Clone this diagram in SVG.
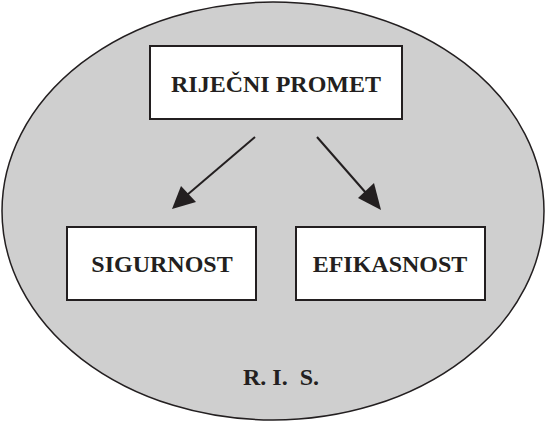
<svg xmlns="http://www.w3.org/2000/svg" width="546" height="422" viewBox="0 0 546 422">
  <style>
    .box { fill: #ffffff; stroke: #231f20; stroke-width: 2; }
    .label { font-family: "Liberation Serif", "Times New Roman", serif; font-weight: bold; font-size: 24px; fill: #231f20; text-anchor: middle; }
    .conn { stroke: #231f20; stroke-width: 2; fill: none; }
    .head { fill: #231f20; }
  </style>
  <!-- background ellipse with caption -->
  <g id="ris">
    <ellipse cx="273" cy="211" rx="271" ry="209" fill="#cfcfcf" stroke="#231f20" stroke-width="1.5"/>
    <text class="label" x="281" y="385" style="white-space:pre">R. I.  S.</text>
  </g>
  <g id="connectors">
    <line class="conn" x1="255" y1="137" x2="180" y2="201"/>
    <line class="conn" x1="317" y1="137" x2="373" y2="201"/>
    <path class="head" d="M172,209 L181,186 L196,202 Z"/>
    <path class="head" d="M381,210 L358,198 L374,183 Z"/>
  </g>
  <g id="promet">
    <rect class="box" x="150" y="46" width="252" height="73"/>
    <text class="label" x="276" y="92">RIJEČNI PROMET</text>
  </g>
  <g id="sigurnost">
    <rect class="box" x="67" y="227" width="189" height="73"/>
    <text class="label" x="162" y="272">SIGURNOST</text>
  </g>
  <g id="efikasnost">
    <rect class="box" x="296" y="227" width="189" height="73"/>
    <text class="label" x="390" y="272">EFIKASNOST</text>
  </g>
</svg>
